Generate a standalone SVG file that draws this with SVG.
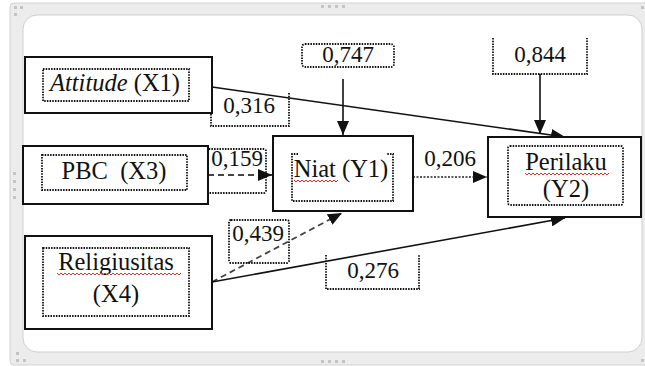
<svg xmlns="http://www.w3.org/2000/svg" width="645" height="366" viewBox="0 0 645 366">
  <style>
    text { font-family: 'Liberation Serif', 'DejaVu Serif', serif; fill: #111; text-anchor: middle; }
    .lbl { font-size: 24.5px; }
    .num { font-size: 23px; }
    .node { fill: #fff; stroke: #111; stroke-width: 2; }
    .dot { fill: none; stroke: #111; stroke-width: 1.8; stroke-dasharray: 1.5 1.2; }
    .solid { fill: none; stroke: #111; stroke-width: 1.6; }
    .dash { fill: none; stroke: #444; stroke-width: 1.8; stroke-dasharray: 6 4; }
    .dashdot { fill: none; stroke: #222; stroke-width: 1.7; stroke-dasharray: 2 1.5; }
    .wave { fill: none; stroke: #e03030; stroke-width: 1; }
    .grip { fill: #c4c4c4; }
  </style>
  <defs>
    <marker id="arrow" viewBox="0 0 14 12" refX="14" refY="6" markerWidth="14" markerHeight="12" markerUnits="userSpaceOnUse" orient="auto">
      <path d="M0,0 L14,6 L0,12 z" fill="#111"/>
    </marker>
  </defs>

  <!-- canvas frame -->
  <rect x="0" y="0" width="645" height="366" fill="#fff"/>
  <rect x="10" y="3" width="640" height="362" rx="4" fill="#ececec" stroke="#d2d2d2"/>
  <rect x="23" y="15" width="619" height="337" rx="14" fill="#fff" stroke="#cfcfcf"/>
  <g id="grips">
    <rect class="grip" x="14" y="6" width="3" height="3"/><rect class="grip" x="20" y="6" width="3" height="3"/><rect class="grip" x="14" y="13" width="3" height="3"/>
    <rect class="grip" x="321" y="5" width="3" height="3"/><rect class="grip" x="328" y="5" width="3" height="3"/><rect class="grip" x="335" y="5" width="3" height="3"/><rect class="grip" x="342" y="5" width="3" height="3"/>
    <rect class="grip" x="641" y="6" width="3" height="3"/>
    <rect class="grip" x="13" y="172" width="3" height="3"/><rect class="grip" x="13" y="180" width="3" height="3"/><rect class="grip" x="13" y="188" width="3" height="3"/><rect class="grip" x="13" y="196" width="3" height="3"/>
    <rect class="grip" x="16" y="352" width="3" height="3"/><rect class="grip" x="16" y="359" width="3" height="3"/><rect class="grip" x="23" y="359" width="3" height="3"/>
    <rect class="grip" x="321" y="360" width="3" height="3"/><rect class="grip" x="328" y="360" width="3" height="3"/><rect class="grip" x="335" y="360" width="3" height="3"/><rect class="grip" x="342" y="360" width="3" height="3"/>
    <rect class="grip" x="641" y="359" width="3" height="3"/>
  </g>

  <!-- connectors -->
  <g id="connectors">
    <line class="solid" x1="212" y1="87" x2="565" y2="137" marker-end="url(#arrow)"/>
    <line class="solid" x1="343" y1="79" x2="343" y2="135" marker-end="url(#arrow)"/>
    <line class="solid" x1="540" y1="74" x2="540" y2="134" marker-end="url(#arrow)"/>
    <line class="dash" x1="208" y1="175" x2="272" y2="175" marker-end="url(#arrow)"/>
    <line class="dashdot" x1="413" y1="177" x2="487" y2="177" marker-end="url(#arrow)"/>
    <line class="dash" x1="212" y1="282" x2="342" y2="213" marker-end="url(#arrow)"/>
    <line class="solid" x1="212" y1="282" x2="565" y2="218" marker-end="url(#arrow)"/>
  </g>

  <!-- coefficient labels -->
  <g id="coef-747">
    <rect class="dot" x="302" y="44" width="92" height="23" rx="3"/>
    <text class="num" x="348" y="62">0,747</text>
  </g>
  <g id="coef-844">
    <path class="dot" d="M493,38 V74 H587 V38"/>
    <text class="num" x="540" y="62">0,844</text>
  </g>
  <g id="coef-316">
    <path class="dot" d="M211,114 V126 H289 V92"/>
    <text class="num" x="249" y="113">0,316</text>
  </g>
  <g id="coef-159">
    <rect class="dot" x="204" y="149" width="62" height="44" rx="2"/>
    <text class="num" x="237" y="166">0,159</text>
  </g>
  <g id="coef-206">
    <path class="dot" d="M405,143 V177"/>
    <text class="num" x="450" y="166">0,206</text>
  </g>
  <g id="coef-439">
    <rect class="dot" x="229" y="220" width="60" height="43" rx="2"/>
    <text class="num" x="258" y="241">0,439</text>
  </g>
  <g id="coef-276">
    <path class="dot" d="M326,255 V289 H419 V255"/>
    <text class="num" x="373" y="278">0,276</text>
  </g>

  <!-- nodes -->
  <g id="attitude">
    <rect class="node" x="25" y="57" width="187" height="56"/>
    <rect class="dot" x="43" y="69" width="146" height="32"/>
    <text class="lbl" x="115" y="91"><tspan font-style="italic">Attitude</tspan> (X1)</text>
  </g>
  <g id="pbc">
    <rect class="node" x="23" y="146" width="185" height="58"/>
    <rect class="dot" x="42" y="155" width="145" height="35"/>
    <text class="lbl" x="114" y="179" xml:space="preserve">PBC  (X3)</text>
  </g>
  <g id="religiusitas">
    <rect class="node" x="25" y="236" width="187" height="93"/>
    <rect class="dot" x="43" y="248" width="146" height="68"/>
    <text class="lbl" x="116" y="270">Religiusitas</text>
    <text class="lbl" x="116" y="302">(X4)</text>
    <path class="wave" d="M57,273 l2,2 l2,-2 l2,2 l2,-2 l2,2 l2,-2 l2,2 l2,-2 l2,2 l2,-2 l2,2 l2,-2 l2,2 l2,-2 l2,2 l2,-2 l2,2 l2,-2 l2,2 l2,-2 l2,2 l2,-2 l2,2 l2,-2 l2,2 l2,-2 l2,2 l2,-2 l2,2 l2,-2 l2,2 l2,-2 l2,2 l2,-2 l2,2 l2,-2 l2,2 l2,-2 l2,2 l2,-2 l2,2 l2,-2 l2,2 l2,-2 l2,2 l2,-2 l2,2 l2,-2 l2,2 l2,-2 l2,2 l2,-2 l2,2 l2,-2 l2,2 l2,-2 l2,2 l2,-2 l2,2 l2,-2 l2,2 l2,-2"/>
  </g>
  <g id="niat">
    <rect class="node" x="273" y="136" width="140" height="75"/>
    <path class="dot" d="M298,154 H292 V201 H393 V154 H387"/>
    <text class="lbl" x="341" y="177">Niat (Y1)</text>
    <path class="wave" d="M294,180 l2,2 l2,-2 l2,2 l2,-2 l2,2 l2,-2 l2,2 l2,-2 l2,2 l2,-2 l2,2 l2,-2 l2,2 l2,-2 l2,2 l2,-2 l2,2 l2,-2 l2,2 l2,-2 l2,2 l2,-2"/>
  </g>
  <g id="perilaku">
    <rect class="node" x="488" y="137" width="153" height="80"/>
    <rect class="dot" x="508" y="146" width="115" height="59" rx="2"/>
    <text class="lbl" x="566" y="170">Perilaku</text>
    <text class="lbl" x="566" y="197">(Y2)</text>
    <path class="wave" d="M525,173 l2,2 l2,-2 l2,2 l2,-2 l2,2 l2,-2 l2,2 l2,-2 l2,2 l2,-2 l2,2 l2,-2 l2,2 l2,-2 l2,2 l2,-2 l2,2 l2,-2 l2,2 l2,-2 l2,2 l2,-2 l2,2 l2,-2 l2,2 l2,-2 l2,2 l2,-2 l2,2 l2,-2 l2,2 l2,-2 l2,2 l2,-2 l2,2 l2,-2 l2,2 l2,-2 l2,2 l2,-2 l2,2 l2,-2"/>
  </g>
</svg>
